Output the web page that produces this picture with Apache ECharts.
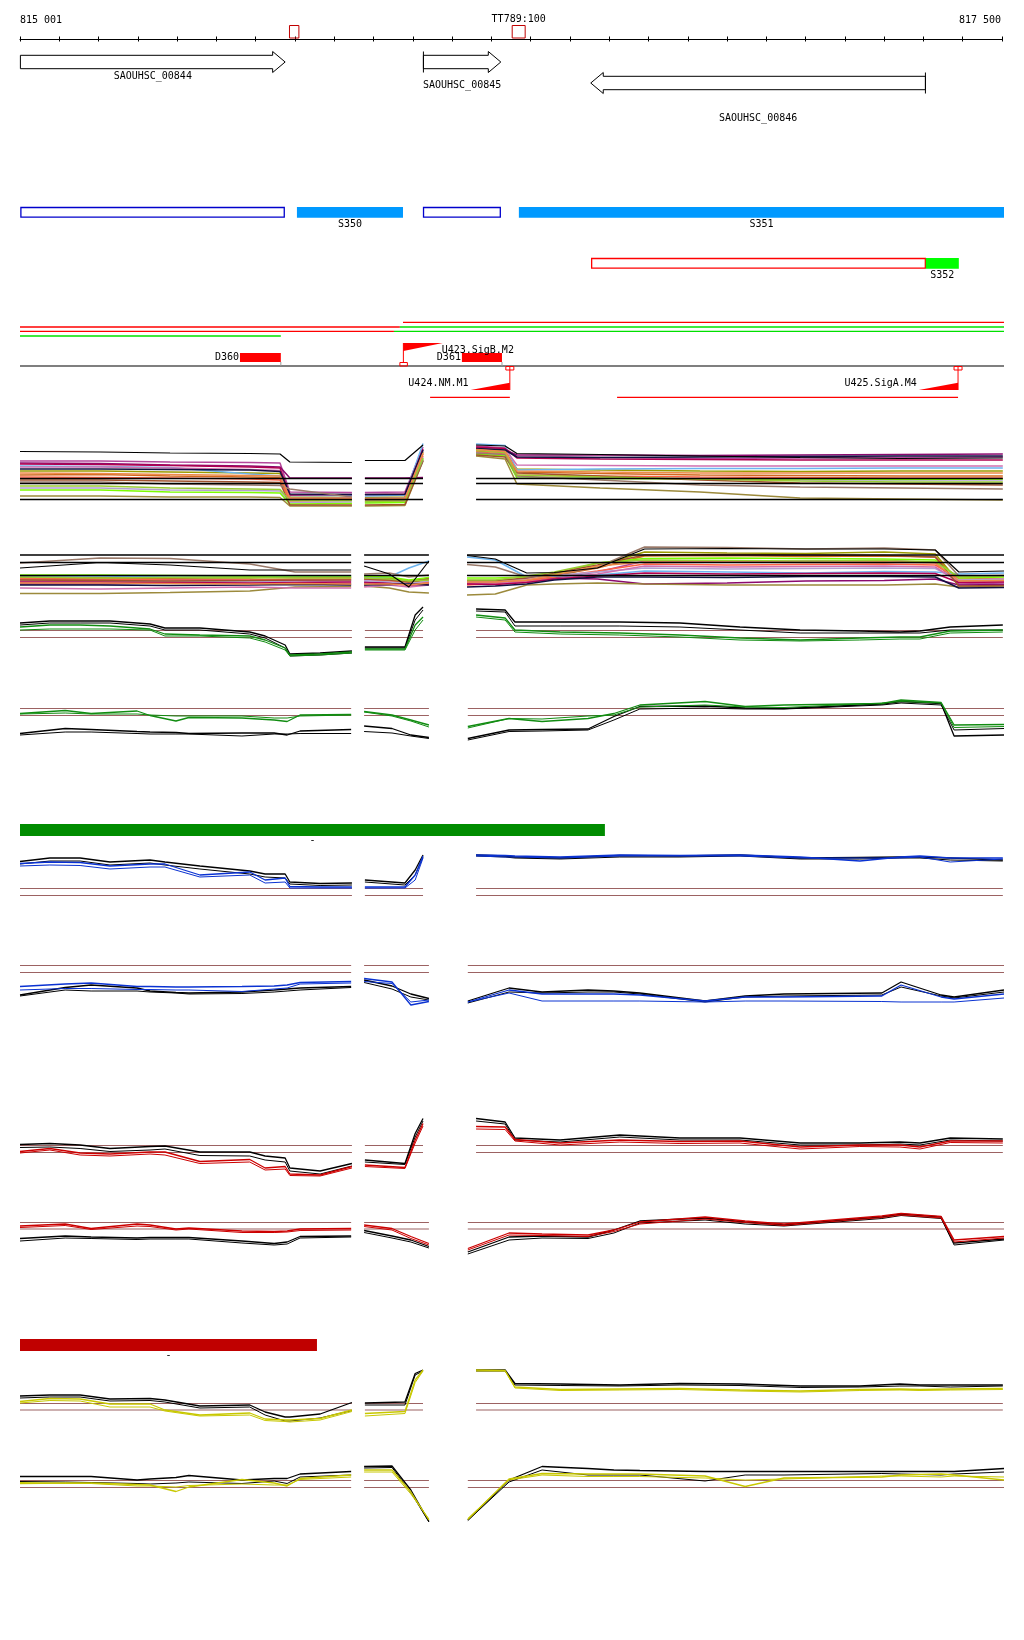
<!DOCTYPE html>
<html>
<head>
<meta charset="utf-8">
<script src="https://cdn.jsdelivr.net/npm/echarts@6/dist/echarts.min.js"></script>
<style>
html, body { margin: 0; padding: 0; background: #fff; }
#main { width: 1024px; height: 1640px; }
</style>
</head>
<body>
<div id="main"></div>
<script>
// region shown in the browser
var regionStart = 815001, regionEnd = 817500;

var rulerMarks = [
  {start: 815686, end: 815710, label: ''},
  {start: 816253, end: 816286, label: 'TT789:100'}
];
var genes = [
  {name: 'SAOUHSC_00844', start: 815001, end: 815675, strand: '+'},
  {name: 'SAOUHSC_00845', start: 816027, end: 816224, strand: '+'},
  {name: 'SAOUHSC_00846', start: 816453, end: 817305, strand: '-'}
];
var segmentsS = [
  {name: '', start: 815001, end: 815674, kind: 'open'},
  {name: 'S350', start: 815705, end: 815975, kind: 'fill'},
  {name: '', start: 816026, end: 816224, kind: 'open'},
  {name: 'S351', start: 816270, end: 817505, kind: 'fill'}
];
var segmentsA = [
  {name: '', start: 816454, end: 817306, kind: 'open'},
  {name: 'S352', start: 817306, end: 817390, kind: 'fill'}
];
var transcripts = [
  {row: 0, start: 815975, end: 817505, dir: 'up'},
  {row: 1, start: 815000, end: 815967, dir: 'up'},
  {row: 1, start: 815967, end: 817505, dir: 'down'},
  {row: 2, start: 815000, end: 815952, dir: 'up'},
  {row: 2, start: 815952, end: 817505, dir: 'down'},
  {row: 3, start: 815000, end: 815664, dir: 'down'}
];
var terminators = [
  {name: 'D360', start: 815560, end: 815664},
  {name: 'D361', start: 816125, end: 816227}
];
var promoters = [
  {name: 'U423.SigB.M2', pos: 815976, strand: '+'},
  {name: 'U424.NM.M1', pos: 816247, strand: '-'},
  {name: 'U425.SigA.M4', pos: 817388, strand: '-'}
];
var operons = [
  {start: 816044, end: 816247},
  {start: 816520, end: 817388}
];
var groups = [
  {name: '-', start: 815000, end: 816489, group: 'G1'},
  {name: '-', start: 815000, end: 815756, group: 'G2'}
];

// probe positions (bp) of the expression panels: left / middle / right blocks
var posA = [[815000, 815204, 815382, 815585, 815662, 815687, 815845],
            [815878, 815980, 816026],
            [816161, 816235, 816265, 816477, 816731, 816986, 817240, 817502]];
var posB = [[815000, 815204, 815382, 815585, 815700, 815843],
            [815876, 815940, 815990, 816041],
            [816138, 816210, 816290, 816360, 816470, 816590, 816800, 817000, 817200, 817330, 817390, 817505]];
var posP1 = [[815000, 815076, 815153, 815229, 815331, 815369, 815458, 815585, 815624, 815675, 815687, 815764, 815845],
             [815878, 815980, 816006, 816026],
             [816161, 816235, 816260, 816375, 816527, 816680, 816833, 816986, 817138, 817240, 817291, 817368, 817502]];
var posP2 = [[815000, 815115, 815181, 815298, 815331, 815397, 815430, 815565, 815647, 815680, 815713, 815843],
             [815876, 815947, 815995, 816041],
             [816140, 816245, 816329, 816446, 816512, 816578, 816744, 816846, 816945, 817194, 817243, 817345, 817378, 817505]];

// panel A: many conditions
var topA = [12.7,12.6,12.4,12.3,12.2,10.6,10.5, 10.9,10.9,14.0, 14.0,13.8,12.3,12.1,11.8,11.5,11.3,11.4];
var linesA = [
  [10.8,10.8,10.6,10.5,10.4,4.6,4.5, 4.5,4.6,13.6, 13.8,13.4,11.6,11.5,11.3,11.4,11.5,11.6],
  [10.4,10.3,10.0,9.8,9.6,7.4,7.4, 7.4,7.4,7.5, 13.4,13.0,12.0,12.0,11.9,12.0,12.1,12.2],
  [8.8,8.8,8.6,8.4,8.3,3.6,3.5, 3.5,3.6,12.6, 13.0,12.7,9.2,9.0,8.8,8.7,8.8,8.8],
  [8.0,8.1,7.8,7.6,7.5,3.0,3.1, 3.2,3.3,12.2, 12.8,12.5,8.6,8.3,8.0,7.9,7.8,7.8],
  [7.6,7.5,7.4,7.2,7.0,2.8,2.9, 2.8,2.8,11.8, 12.6,12.2,8.0,7.8,7.6,7.5,7.4,7.4],
  [9.8,9.7,9.5,8.2,7.8,3.9,3.9, 3.8,4.0,14.3, 14.2,13.9,9.0,9.2,9.3,9.3,9.4,9.4],
  [5.4,5.4,5.0,4.9,4.8,2.5,2.6, 2.5,2.6,11.5, 12.4,12.0,7.6,7.4,7.2,7.0,7.0,7.0],
  [5.0,5.0,4.6,4.5,4.4,2.2,2.3, 2.4,2.5,11.2, 12.2,11.8,7.4,7.3,7.2,7.2,7.1,7.2],
  [3.8,3.8,3.6,3.6,3.5,1.8,1.8, 1.8,1.9,10.8, 11.8,11.2,6.2,5.4,4.6,3.4,3.2,3.0],
  [9.6,9.6,9.4,9.1,8.9,3.3,3.4, 3.3,3.4,12.9, 13.6,13.2,10.0,9.9,9.8,9.8,9.8,9.8],
  [10.2,10.1,9.9,9.6,9.4,4.0,4.1, 4.1,4.2,13.2, 13.6,13.3,11.4,11.2,11.1,11.0,11.0,11.0],
  [9.2,9.2,9.1,9.0,8.7,4.2,4.1, 4.1,4.1,13.0, 13.3,13.0,11.6,11.5,11.6,11.7,11.8,11.8],
  [7.0,7.0,6.8,6.6,6.5,2.0,2.0, 2.0,2.1,10.9, 12.0,11.6,8.4,7.8,7.0,6.4,6.2,6.0],
  [6.6,6.6,6.2,6.0,5.9,5.2,3.6, 3.0,3.0,11.0, 12.4,12.1,7.8,7.0,6.0,5.6,5.4,5.2],
  [5.8,5.8,5.4,5.2,5.1,2.9,2.9, 2.7,2.8,11.4, 12.9,12.5,8.0,7.6,7.2,6.8,6.6,6.6],
  [8.4,8.3,8.1,7.9,7.8,3.4,3.3, 3.2,3.3,12.4, 13.1,12.7,8.8,8.6,8.4,8.4,8.4,8.4]
];
var refsA = [7.3, 6.3, 3.1];

// panel B: many conditions
var topB = [6.4,7.5,7.0,6.0,6.0,6.0, 6.8,5.2,2.6,7.8, 8.9,8.2,5.4,5.5,6.4,10.2,10.3,10.2,10.2,10.0,5.6,5.8];
var linesB = [
  [4.0,4.1,4.2,4.0,3.9,4.0, 4.2,4.0,3.0,3.3, 3.4,3.5,3.8,4.4,5.6,7.8,7.6,7.8,7.9,7.5,3.2,3.4],
  [3.2,3.2,3.4,3.3,3.2,3.3, 3.6,3.4,3.2,3.6, 3.2,3.3,4.4,4.4,4.2,3.2,3.4,3.8,3.9,4.2,3.0,3.1],
  [4.6,4.5,4.4,4.4,4.6,4.5, 4.8,4.4,3.8,4.4, 3.8,3.6,3.9,4.6,6.8,9.6,9.4,9.3,9.6,9.2,3.6,3.8],
  [4.4,4.3,4.4,4.8,4.6,4.5, 4.5,4.2,3.5,4.0, 3.6,3.8,4.0,4.9,6.4,8.8,8.9,8.7,8.8,8.6,3.9,4.0],
  [4.2,4.2,4.0,4.0,4.2,4.2, 4.0,3.8,3.4,3.6, 3.0,3.3,3.8,4.6,5.8,7.2,7.0,7.1,7.2,7.0,4.2,4.3],
  [4.8,4.8,4.6,4.6,4.7,4.8, 4.6,4.6,6.4,7.8, 8.6,8.0,4.6,4.8,5.0,5.8,5.6,5.4,5.7,5.6,5.2,5.4],
  [3.8,3.8,3.7,3.8,3.6,3.8, 3.9,3.6,3.3,3.8, 3.8,3.8,4.2,4.9,5.6,6.4,6.2,6.3,6.4,6.3,4.0,4.2],
  [5.0,5.0,4.9,4.8,4.8,4.8, 4.8,4.6,4.0,4.5, 4.4,4.4,4.6,5.2,7.4,8.3,8.4,8.3,8.2,8.0,4.4,4.6],
  [1.3,1.3,1.5,1.8,2.6,2.7, 2.8,2.4,1.6,1.4, 1.0,1.2,3.0,3.2,3.4,3.2,3.0,3.0,3.0,3.2,2.6,2.8],
  [2.4,2.2,2.4,2.6,2.4,2.4, 2.6,3.0,2.6,3.0, 3.4,3.4,3.6,4.2,5.2,6.8,6.6,6.7,6.8,6.6,3.6,3.7],
  [3.6,3.6,3.5,3.4,3.5,3.6, 3.4,3.3,3.0,3.2, 3.2,3.1,3.5,4.2,4.8,5.4,5.2,5.3,5.4,5.3,3.5,3.6],
  [3.0,3.0,2.9,3.0,3.1,3.0, 3.0,3.1,3.2,3.0, 2.6,2.8,3.2,4.0,4.6,4.6,4.5,4.7,4.7,4.6,2.4,2.5],
  [4.0,3.9,3.8,3.9,4.0,4.0, 4.2,4.0,3.6,4.2, 3.9,3.9,4.4,5.4,7.0,9.0,9.1,9.0,8.9,8.6,2.8,2.9],
  [7.4,8.4,8.3,7.2,5.6,5.6, 5.2,5.4,4.6,5.0, 7.1,6.6,4.6,5.0,6.6,10.6,10.5,10.2,10.4,10.0,4.8,4.9],
  [4.6,4.4,4.5,4.5,4.4,4.4, 4.4,4.2,3.8,4.0, 4.0,4.0,4.8,5.6,7.4,8.0,7.9,7.8,7.9,7.6,4.6,4.8],
  [3.4,3.4,3.3,3.2,3.3,3.2, 3.2,3.2,3.0,3.4, 3.6,3.6,4.0,5.0,6.8,7.6,7.6,7.5,7.6,7.4,3.8,3.9]
];
var refsB = [9.0, 7.5, 4.9];

// profile panels: two black + two coloured replicates each
var panelC = [
  [7.4,7.8,7.8,7.8,7.2,6.4,6.4,5.6,4.8,3.0,1.2,1.4,1.8, 2.6,2.6,9.0,10.6, 10.2,10.0,7.6,7.6,7.6,7.4,6.6,6.0,5.8,5.6,5.8,6.6,7.0],
  [7.0,7.4,7.4,7.4,6.8,6.0,6.0,5.2,4.4,2.4,0.8,1.0,1.4, 2.4,2.4,8.0,10.0, 9.8,9.6,6.8,6.8,6.8,6.6,6.0,5.4,5.4,5.4,5.4,6.0,6.0],
  [6.6,7.0,7.0,6.8,6.2,5.2,5.0,4.8,4.0,2.4,1.0,1.2,1.6, 2.2,2.2,7.0,8.6, 9.0,8.4,6.0,5.6,5.4,5.0,4.4,4.0,4.4,4.6,4.6,5.8,6.0],
  [6.0,6.2,6.2,6.2,6.0,4.8,4.8,4.4,3.6,2.0,0.8,1.0,1.4, 2.0,2.0,6.0,8.0, 8.6,8.0,5.6,5.2,5.0,4.6,4.0,3.8,4.0,4.2,4.2,5.4,5.6]
];
var panelD = [
  [3.3,4.3,4.1,3.7,3.6,3.5,3.3,3.4,3.4,3.0,3.8,4.1, 4.8,4.3,3.0,2.5, 2.3,4.0,4.1,4.2,6.7,8.7,8.8,8.4,8.3,9.2,9.7,9.3,2.8,3.0],
  [3.0,3.6,3.6,3.3,3.2,3.2,3.2,2.8,3.2,3.2,3.3,3.3, 3.7,3.4,2.8,2.3, 2.0,3.7,3.8,4.0,6.0,8.2,8.4,8.2,8.2,9.0,9.4,9.0,4.0,4.3],
  [7.3,7.9,7.3,7.8,6.9,5.8,6.5,6.4,6.0,5.7,7.0,7.1, 7.7,7.0,6.0,5.0, 4.7,6.3,5.7,6.3,7.3,9.0,9.7,8.7,9.0,9.3,10.0,9.5,5.0,5.1],
  [7.2,7.4,7.2,7.2,7.0,6.8,6.8,6.8,6.4,6.4,6.8,7.0, 7.6,6.8,5.8,4.6, 4.4,6.3,6.2,6.8,7.0,8.6,9.0,8.6,8.5,9.4,9.7,9.4,4.5,4.7]
];
var panelE = [
  [8.7,9.4,9.4,8.6,9.0,8.6,7.8,6.8,6.2,6.2,4.6,4.3,4.4, 5.0,4.4,7.0,10.0, 10.0,9.8,9.6,9.4,9.9,9.8,10.0,9.4,9.5,9.6,9.6,9.4,9.0],
  [8.2,8.8,8.8,8.0,8.4,8.0,7.2,6.2,5.6,5.4,4.2,3.9,4.0, 4.6,4.0,6.0,9.6, 9.8,9.6,9.4,9.2,9.6,9.6,9.8,9.2,9.2,9.4,9.4,9.0,8.8],
  [8.3,8.6,8.5,7.8,8.2,8.2,6.0,6.6,5.0,5.4,3.7,3.6,3.6, 3.6,3.6,6.0,9.8, 10.0,9.9,9.8,9.6,10.0,9.9,10.0,9.6,8.8,9.6,9.8,9.4,9.4],
  [7.8,8.0,7.9,7.2,7.6,7.6,5.6,6.0,4.4,4.6,3.4,3.4,3.4, 3.4,3.4,5.0,9.4, 9.8,9.6,9.6,9.4,9.8,9.8,9.8,9.4,9.4,9.4,9.6,8.6,9.2]
];
var panelF = [
  [4.0,5.5,6.0,5.4,4.8,4.5,4.4,4.6,5.0,5.2,5.4,5.7, 7.0,5.8,4.2,3.3, 2.8,5.4,4.6,5.0,4.8,4.4,2.8,3.8,4.2,4.4,6.6,4.0,3.6,5.0],
  [3.8,5.0,4.8,4.8,4.6,4.4,4.2,4.3,4.6,4.8,5.0,5.5, 6.5,5.2,3.6,3.0, 2.4,4.6,4.4,4.6,4.6,4.2,2.6,3.6,3.8,4.0,5.6,3.8,3.4,4.6],
  [5.7,6.2,6.4,5.7,5.7,5.6,5.6,5.7,5.8,6.0,6.5,6.7, 7.3,6.6,2.0,2.7, 2.6,5.0,4.2,4.2,4.2,4.0,2.8,3.6,3.6,3.8,6.0,3.6,3.2,4.2],
  [5.0,5.3,5.3,5.1,5.1,5.0,5.0,4.7,5.2,5.4,6.2,6.4, 6.7,6.3,2.6,3.0, 2.6,4.4,2.8,2.8,2.8,2.8,2.6,2.8,2.8,2.7,2.6,2.6,2.6,3.4]
];
var panelG = [
  [7.1,7.3,7.0,6.3,6.7,6.8,5.6,5.6,4.8,4.4,2.4,1.8,3.3, 4.0,3.3,9.3,12.3, 12.3,11.6,8.4,8.0,9.0,8.4,8.4,7.4,7.4,7.6,7.4,8.4,8.2],
  [6.5,6.6,6.3,5.7,6.0,6.2,4.9,4.8,4.0,3.6,1.8,1.2,2.8, 3.6,3.1,8.6,11.8, 11.8,11.2,8.0,7.6,8.6,8.0,8.0,7.0,7.0,7.2,7.0,8.0,7.8],
  [5.7,6.3,5.4,5.2,5.6,5.6,3.7,4.1,2.4,2.7,1.2,1.0,2.7, 3.0,2.5,8.0,11.3, 10.7,10.6,8.1,7.4,8.0,7.7,7.8,6.6,7.0,7.0,6.6,7.8,7.8],
  [5.4,6.0,5.0,4.8,5.2,5.0,3.3,3.6,2.0,2.2,0.9,0.8,2.4, 2.7,2.3,7.4,10.8, 10.2,10.1,7.8,7.0,7.6,7.3,7.4,6.2,6.7,6.6,6.2,7.5,7.4]
];
var panelH = [
  [4.3,4.8,4.6,4.4,4.5,4.5,4.5,3.8,3.3,3.6,4.7,4.8, 5.9,4.8,4.0,2.7, 1.6,4.6,4.8,4.6,6.0,7.8,8.4,7.6,7.0,8.6,9.2,8.6,3.4,4.2],
  [3.8,4.4,4.3,4.1,4.2,4.2,4.2,3.4,3.0,3.2,4.4,4.6, 5.5,4.4,3.6,2.4, 1.2,4.0,4.4,4.3,5.4,7.4,8.0,7.2,6.8,8.3,8.9,8.3,3.0,4.0],
  [6.8,7.2,6.3,7.2,7.0,6.2,6.4,5.8,5.7,5.8,6.2,6.3, 7.0,6.3,4.7,3.3, 2.3,5.4,5.2,5.0,6.0,7.6,8.6,7.8,7.2,8.8,9.3,8.7,4.0,4.7],
  [6.5,6.9,6.1,6.8,6.7,6.0,6.2,5.5,5.5,5.6,5.9,6.0, 6.7,6.0,4.3,3.0, 2.0,5.0,4.9,4.7,5.7,7.2,8.2,7.5,6.9,8.5,9.0,8.4,3.6,4.4]
];
var panelI = [
  [6.8,7.0,7.0,6.2,6.3,6.0,4.8,5.0,3.6,2.6,2.6,3.2,5.5, 5.4,5.6,11.3,12.0, 12.0,12.0,9.3,9.2,9.0,9.3,9.2,8.8,8.8,9.2,9.0,9.0,9.0],
  [6.4,6.6,6.6,5.8,5.9,5.6,4.4,4.6,3.0,1.8,1.8,2.4,3.9, 5.0,5.0,11.0,11.8, 11.8,11.8,9.0,8.9,8.8,9.0,8.9,8.5,8.6,8.8,8.8,8.6,8.8],
  [5.7,6.3,6.2,5.2,5.2,4.0,3.0,3.4,2.2,2.0,2.0,2.3,4.0, 3.3,3.7,10.0,12.0, 12.0,11.9,8.6,8.1,8.2,8.3,8.0,7.8,8.1,8.2,8.1,8.2,8.3],
  [5.4,5.9,5.8,4.6,4.6,3.8,2.8,3.0,1.9,1.7,1.6,2.0,3.7, 2.8,3.3,9.5,11.8, 11.8,11.8,8.4,7.9,8.0,8.1,7.8,7.6,7.9,8.0,7.9,8.0,8.1]
];
var panelJ = [
  [10.7,10.7,10.7,10.0,10.2,10.5,10.9,10.0,10.3,10.3,11.2,11.7, 12.7,12.8,8.0,1.7, 2.0,10.0,12.7,12.3,12.0,11.9,11.7,11.7,11.7,11.7,11.7,11.7,11.7,12.3],
  [9.7,9.6,9.5,9.3,9.2,9.4,9.6,9.3,9.8,9.3,10.6,11.0, 12.4,12.5,7.5,1.6, 1.9,9.6,12.0,11.0,11.0,11.0,9.8,11.0,11.0,11.3,11.2,11.0,11.2,11.6],
  [9.3,9.4,9.4,9.1,9.0,7.7,8.6,10.1,9.4,8.8,10.3,11.0, 12.0,12.0,7.6,2.0, 2.1,10.2,11.3,11.2,11.2,11.2,10.8,8.7,10.4,10.6,11.0,11.2,11.0,10.0],
  [9.5,9.3,9.3,8.8,8.8,8.6,8.9,9.2,9.0,9.0,10.1,10.6, 11.6,11.6,7.2,2.2, 2.3,10.0,11.0,10.7,10.7,10.7,10.4,10.0,10.2,10.8,10.8,10.6,10.8,10.6]
];
var refsC = [5.9, 4.5], refsD = [8.3, 6.9], refsE = [3.3, 1.9], refsF = [9.9, 8.5],
    refsG = [6.9, 5.5], refsH = [7.5, 6.2], refsI = [5.3, 4.0], refsJ = [9.9, 8.5];

// ---------- styling ----------
var FONT = '10px "DejaVu Sans Mono", "Liberation Mono", monospace';
var palette = ['#b4479c','#8b0a6e','#9a9a00','#d2691e','#ff6347','#6cb4f0','#b4a0d2','#7cfc00',
               '#9c8a3c','#d070b0','#b00050','#101040','#a0522d','#9a7a6a','#9acd32','#ee8a4a'];
var dirColor = {up: '#ff0000', down: '#00e000'};
var groupColor = {G1: '#008c00', G2: '#c00000'};
var REF = '#9c6262';

var panels = [
  {top: 440, height: 75, max: 15, pos: posA, multi: linesA, top1: topA, refs: refsA, refColor: '#000', refW: 1.5},
  {top: 540, height: 60, max: 12, pos: posB, multi: linesB, top1: topB, refs: refsB, refColor: '#000', refW: 1.5},
  {top: 600, height: 60, max: 12, pos: posP1, pair: panelC, color: '#118c11', refs: refsC},
  {top: 690, height: 60, max: 12, pos: posP2, pair: panelD, color: '#118c11', refs: refsD},
  {top: 845, height: 60, max: 12, pos: posP1, pair: panelE, color: '#0a32d2', refs: refsE},
  {top: 955, height: 60, max: 12, pos: posP2, pair: panelF, color: '#0a32d2', refs: refsF},
  {top: 1110, height: 70, max: 14, pos: posP1, pair: panelG, color: '#cc0000', refs: refsG},
  {top: 1195, height: 65, max: 13, pos: posP2, pair: panelH, color: '#cc0000', refs: refsH},
  {top: 1360, height: 70, max: 14, pos: posP1, pair: panelI, color: '#c8c800', refs: refsI},
  {top: 1455, height: 75, max: 15, pos: posP2, pair: panelJ, color: '#c8c800', refs: refsJ}
];

var grids = [], xAxes = [], yAxes = [], series = [];

// ruler
grids.push({left: 20, top: 38, width: 982, height: 1, outerBoundsMode: 'none'});
xAxes.push({gridIndex: 0, type: 'value', position: 'top', min: 815000, max: 817500, interval: 100,
  axisLine: {lineStyle: {color: '#000', width: 1}}, axisTick: {length: 2.5, lineStyle: {color: '#000'}},
  axisLabel: {show: false}, splitLine: {show: false}});
xAxes.push({gridIndex: 0, type: 'value', position: 'bottom', min: 815000, max: 817500, interval: 100,
  axisLine: {show: false}, axisTick: {length: 2.5, lineStyle: {color: '#000'}},
  axisLabel: {show: false}, splitLine: {show: false}});
yAxes.push({gridIndex: 0, type: 'value', show: false});

// annotation area (y axis is the screen row)
grids.push({left: 20, top: 0, width: 984, height: 1640, outerBoundsMode: 'none'});
xAxes.push({gridIndex: 1, type: 'value', min: 815000, max: 817505, show: false});
yAxes.push({gridIndex: 1, type: 'value', min: 0, max: 1640, inverse: true, show: false});

function ann(list, getX, render) {
  return {
    type: 'custom', xAxisIndex: 2, yAxisIndex: 1, clip: false, silent: true, animation: false,
    data: list.map(function (d) { return [getX(d), 0]; }),
    renderItem: function (params, api) { return render(list[params.dataIndex], api, params.dataIndex); }
  };
}
function X(api, bp) { return api.coord([bp, 0])[0]; }
function Y(api, row) { return api.coord([815000, row])[1]; }
function txt(s, x, y, align) {
  return {type: 'text', style: {text: s, x: x, y: y, font: FONT, fill: '#000', align: align || 'center', verticalAlign: 'middle'}};
}

// ruler end labels
function fmt(n) { return String(n).replace(/\B(?=(\d{3})+(?!\d))/g, ' '); }
series.push(ann([regionStart, regionEnd], function (d) { return d; }, function (d, api, i) {
  return txt(fmt(d), i === 0 ? X(api, d) - 0.5 : X(api, d) - 1, Y(api, 20), i === 0 ? 'left' : 'right');
}));
// ruler marks
series.push(ann(rulerMarks, function (d) { return d.start; }, function (d, api) {
  var a = X(api, d.start), b = X(api, d.end);
  return {type: 'group', children: [
    {type: 'rect', shape: {x: a, y: Y(api, 25.5), width: b - a, height: 12.5}, style: {fill: 'none', stroke: '#c00000', lineWidth: 1}},
    txt(d.label, (a + b) / 2, Y(api, 19.5))
  ]};
}));
// genes
var geneLane = {'+': 62, '-': 83};
var geneLabelRow = [76.5, 85, 118];
series.push(ann(genes, function (d) { return d.start; }, function (g, api, i) {
  var yc = Y(api, geneLane[g.strand]);
  var a = X(api, g.start), b = X(api, g.end), pts, tail;
  if (g.strand === '+') {
    var h = b - 12.5;
    pts = [[a, yc - 6.7], [h, yc - 6.7], [h, yc - 10.5], [b, yc], [h, yc + 10.5], [h, yc + 6.7], [a, yc + 6.7]];
    tail = g.start > regionStart ? a : null;
  } else {
    var h2 = a + 12.5;
    pts = [[a, yc], [h2, yc - 10.5], [h2, yc - 6.7], [b, yc - 6.7], [b, yc + 6.7], [h2, yc + 6.7], [h2, yc + 10.5]];
    tail = g.end < regionEnd ? b : null;
  }
  var ch = [{type: 'polygon', shape: {points: pts}, style: {fill: '#fff', stroke: '#000', lineWidth: 1}}];
  if (tail !== null) ch.push({type: 'line', shape: {x1: tail, y1: yc - 10.5, x2: tail, y2: yc + 10.5}, style: {stroke: '#000', lineWidth: 1}});
  ch.push(txt(g.name, (a + b) / 2, Y(api, geneLabelRow[i])));
  return {type: 'group', children: ch};
}));
// segment rows
function segRow(list, top, bottom, labelRow, openColor, fillColor) {
  return ann(list, function (d) { return d.start; }, function (s, api) {
    var a = X(api, s.start), b = X(api, s.end), y0 = Y(api, top), y1 = Y(api, bottom);
    var open = s.kind === 'open';
    return {type: 'group', children: [
      {type: 'rect', shape: {x: a + (open ? 0.5 : 0), y: y0 + (open ? 0.5 : 0), width: b - a - (open ? 1 : 0), height: y1 - y0 - (open ? 1 : 0)},
        style: open ? {fill: '#fff', stroke: openColor, lineWidth: 1.3} : {fill: fillColor}},
      txt(s.name, (a + b) / 2, Y(api, labelRow))
    ]};
  });
}
series.push(segRow(segmentsS, 207, 217.7, 224.5, '#0000cc', '#0099ff'));
series.push(segRow(segmentsA, 258, 268.7, 275.5, '#ff0000', '#00ff00'));
// transcript lines
var transcriptRow = [322.3, 327, 331.3, 336];
series.push(ann(transcripts, function (d) { return d.start; }, function (t, api) {
  var y = Y(api, transcriptRow[t.row]);
  return {type: 'line', shape: {x1: X(api, t.start), y1: y, x2: X(api, t.end), y2: y}, style: {stroke: dirColor[t.dir], lineWidth: 1.3}};
}));
// baseline + terminators
var baseRow = 366;
series.push(ann([{start: 815000, end: 817505}], function (d) { return d.start; }, function (d, api) {
  var y = Y(api, baseRow);
  return {type: 'line', shape: {x1: X(api, d.start), y1: y, x2: X(api, d.end), y2: y}, style: {stroke: '#000', lineWidth: 1.2}};
}));
series.push(ann(terminators, function (d) { return d.start; }, function (t, api) {
  var a = X(api, t.start), b = X(api, t.end);
  return {type: 'group', children: [
    {type: 'rect', shape: {x: a, y: Y(api, 353), width: b - a, height: 9}, style: {fill: '#ff0000'}},
    {type: 'line', shape: {x1: b, y1: Y(api, 362), x2: b, y2: Y(api, baseRow)}, style: {stroke: '#999', lineWidth: 1}},
    txt(t.name, a - 1, Y(api, 357.5), 'right')
  ]};
}));
// promoters
series.push(ann(promoters, function (d) { return d.pos; }, function (p, api) {
  var x = X(api, p.pos), ch;
  if (p.strand === '+') {
    var e = X(api, p.pos + 100);
    ch = [
      {type: 'line', shape: {x1: x, y1: Y(api, 343), x2: x, y2: Y(api, 362)}, style: {stroke: '#ff0000', lineWidth: 1}},
      {type: 'polygon', shape: {points: [[x, Y(api, 343)], [e, Y(api, 343)], [x, Y(api, 351)]]}, style: {fill: '#ff0000'}},
      {type: 'rect', shape: {x: x - 3.5, y: Y(api, 362.5), width: 7.5, height: 3.5}, style: {fill: 'none', stroke: '#ff0000', lineWidth: 1}},
      txt(p.name, e - 1, Y(api, 350), 'left')
    ];
  } else {
    var s = X(api, p.pos - 100);
    ch = [
      {type: 'line', shape: {x1: x, y1: Y(api, baseRow), x2: x, y2: Y(api, 390)}, style: {stroke: '#ff0000', lineWidth: 1}},
      {type: 'polygon', shape: {points: [[s, Y(api, 390)], [x, Y(api, 390)], [x, Y(api, 382.7)]]}, style: {fill: '#ff0000'}},
      {type: 'rect', shape: {x: x - 4, y: Y(api, 366.5), width: 8, height: 3.5}, style: {fill: 'none', stroke: '#ff0000', lineWidth: 1}},
      txt(p.name, s - 2, Y(api, 383), 'right')
    ];
  }
  return {type: 'group', children: ch};
}));
// operon lines
series.push(ann(operons, function (d) { return d.start; }, function (o, api) {
  var y = Y(api, 397.3);
  return {type: 'line', shape: {x1: X(api, o.start), y1: y, x2: X(api, o.end), y2: y}, style: {stroke: '#ff0000', lineWidth: 1.2}};
}));
// condition group bars
var groupRow = [[824, 836], [1339, 1351]];
series.push(ann(groups, function (d) { return d.start; }, function (g, api, i) {
  var a = X(api, g.start), b = X(api, g.end), r = groupRow[i];
  return {type: 'group', children: [
    {type: 'rect', shape: {x: a, y: Y(api, r[0]), width: b - a, height: r[1] - r[0]}, style: {fill: groupColor[g.group]}},
    txt(g.name, (a + b) / 2, Y(api, r[1] + 4.5))
  ]};
}));

// ---------- expression panels ----------
function track(pos, vals) {
  var out = [], k = 0;
  pos.forEach(function (xs, si) {
    if (si > 0) out.push([(pos[si - 1][pos[si - 1].length - 1] + xs[0]) / 2, null]);
    xs.forEach(function (x) { out.push([x, vals[k++]]); });
  });
  return out;
}
function refTrack(pos, v) {
  var out = [];
  pos.forEach(function (xs, si) {
    if (si > 0) out.push([(pos[si - 1][pos[si - 1].length - 1] + xs[0]) / 2, null]);
    out.push([xs[0], v], [xs[xs.length - 1], v]);
  });
  return out;
}
function lineSeries(xi, yi, data, color, width) {
  return {type: 'line', xAxisIndex: xi, yAxisIndex: yi, data: data, symbol: 'none', showSymbol: false,
    connectNulls: false, silent: true, animation: false, clip: false,
    lineStyle: {color: color, width: width}, itemStyle: {color: color}, emphasis: {disabled: true}};
}

panels.forEach(function (p, k) {
  var gi = 2 + k;
  grids.push({left: 20, top: p.top, width: 984, height: p.height, outerBoundsMode: 'none'});
  xAxes.push({gridIndex: gi, type: 'value', min: 815000, max: 817505, show: false});
  yAxes.push({gridIndex: gi, type: 'value', min: 0, max: p.max, show: false});
  var xi = xAxes.length - 1, yi = yAxes.length - 1;
  if (p.multi) {
    p.multi.forEach(function (vals, j) { series.push(lineSeries(xi, yi, track(p.pos, vals), palette[j], 1.5)); });
    p.refs.forEach(function (v) { series.push(lineSeries(xi, yi, refTrack(p.pos, v), p.refColor, p.refW)); });
    series.push(lineSeries(xi, yi, track(p.pos, p.top1), '#000', 1.2));
  } else {
    p.refs.forEach(function (v) { series.push(lineSeries(xi, yi, refTrack(p.pos, v), REF, 1.2)); });
    series.push(lineSeries(xi, yi, track(p.pos, p.pair[0]), '#000', 1.3));
    series.push(lineSeries(xi, yi, track(p.pos, p.pair[1]), '#000', 1));
    series.push(lineSeries(xi, yi, track(p.pos, p.pair[2]), p.color, 1.3));
    series.push(lineSeries(xi, yi, track(p.pos, p.pair[3]), p.color, 1));
  }
});

var chart = echarts.init(document.getElementById('main'));
chart.setOption({
  backgroundColor: '#fff',
  animation: false,
  tooltip: {show: false},
  grid: grids,
  xAxis: xAxes,
  yAxis: yAxes,
  series: series
});
</script>
</body>
</html>
